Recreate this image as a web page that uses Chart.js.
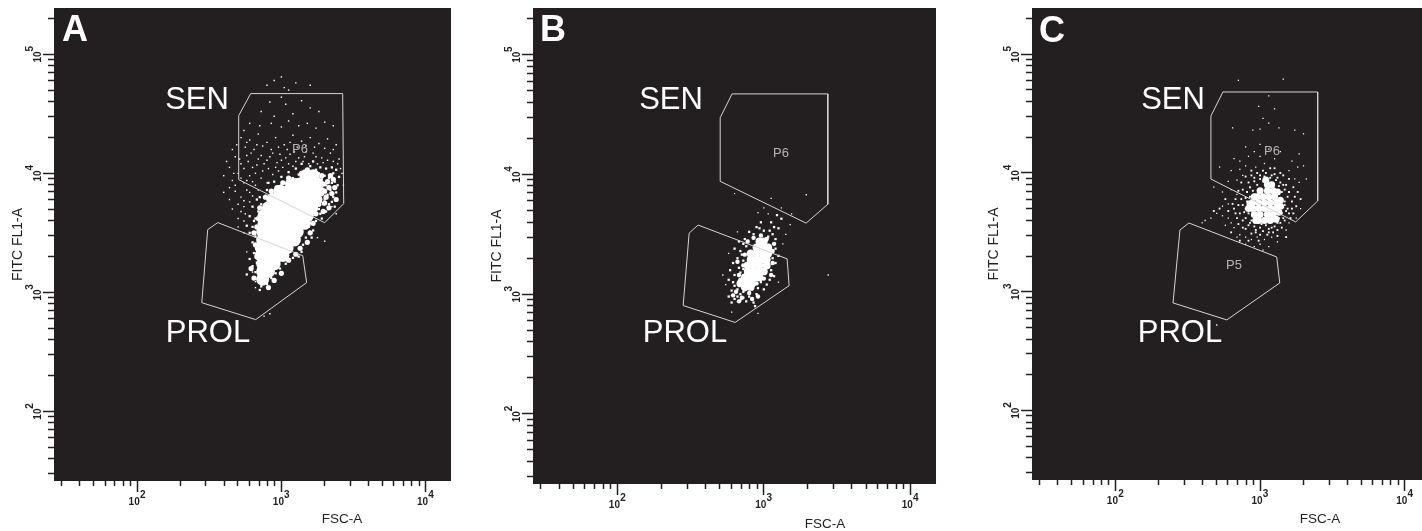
<!DOCTYPE html>
<html>
<head>
<meta charset="utf-8">
<title>FSC-A vs FITC FL1-A</title>
<script src="https://cdn.jsdelivr.net/npm/chart.js@4"></script>
<style>
  html, body { margin: 0; padding: 0; background: #fff; overflow: hidden; }
  body { position: relative; width: 1422px; height: 531px; font-family: "Liberation Sans", Arial, sans-serif; }
  canvas { position: absolute; top: 0; }
  .txt { position: absolute; transform: translate(-50%, -50%); white-space: nowrap; line-height: 1; }
  .letter { color: #fff; font-size: 36px; font-weight: bold; transform: translate(0, -50%); }
  .gate { color: #fff; font-size: 31px; }
  .sub { color: #b4b4b4; font-size: 13px; }
  .axis { color: #231f20; font-size: 13.5px; }
</style>
</head>
<body>
<canvas id="chartA"></canvas>
<canvas id="chartB"></canvas>
<canvas id="chartC"></canvas>
<script>
// tick positions, same on all three plots
var xTicks = [30, 40, 50, 60, 70, 80, 90, 100, 200, 300, 400, 500, 600, 700, 800, 900, 1000,
  2000, 3000, 4000, 5000, 6000, 7000, 8000, 9000, 10000];
var yTicks = [30, 40, 50, 60, 70, 80, 90, 100, 200, 300, 400, 500, 600, 700, 800, 900, 1000,
  2000, 3000, 4000, 5000, 6000, 7000, 8000, 9000, 10000,
  20000, 30000, 40000, 50000, 60000, 70000, 80000, 90000, 100000, 200000];
var decades = [100, 1000, 10000, 100000];
var decadeExponents = ["2", "3", "4", "5"];

// everything below is [log10 FSC-A, log10 FITC FL1-A]
var senGateA = [[2.787,4.67],[3.425,4.67],[3.432,3.745],[3.3,3.585],[2.704,3.947],[2.704,4.485],[2.787,4.67]];
var prolGateA = [[2.559,3.586],[3.148,3.308],[3.175,3.082],[2.822,2.771],[2.448,2.913],[2.489,3.527],[2.559,3.586]];
var senGateB = [[2.783,4.672],[3.437,4.672],[3.437,3.751],[3.289,3.593],[2.702,3.942],[2.702,4.473],[2.783,4.672]];
var prolGateB = [[2.551,3.577],[3.159,3.295],[3.173,3.071],[2.804,2.764],[2.449,2.905],[2.49,3.51],[2.551,3.577]];
var senGateC = [[2.743,4.682],[3.398,4.682],[3.398,3.764],[3.246,3.588],[2.66,3.949],[2.66,4.48],[2.743,4.682]];
var prolGateC = [[2.508,3.579],[3.115,3.293],[3.136,3.074],[2.77,2.763],[2.398,2.906],[2.446,3.52],[2.508,3.579]];

var coreA = [[3.17,3.98],[3.22,3.98],
  [3.07,3.91],[3.13,3.91],[3.19,3.91],[3.25,3.91],
  [2.99,3.85],[3.05,3.85],[3.11,3.85],[3.17,3.85],[3.23,3.85],
  [2.94,3.78],[3.0,3.78],[3.06,3.78],[3.12,3.78],[3.18,3.78],[3.24,3.78],
  [2.91,3.71],[2.97,3.71],[3.03,3.71],[3.09,3.71],[3.15,3.71],[3.21,3.71],
  [2.88,3.645],[2.94,3.645],[3.0,3.645],[3.06,3.645],[3.12,3.645],[3.18,3.645],
  [2.88,3.58],[2.94,3.58],[3.0,3.58],[3.06,3.58],[3.12,3.58],[3.16,3.58],
  [2.87,3.51],[2.93,3.51],[2.99,3.51],[3.05,3.51],[3.11,3.51],
  [2.87,3.44],[2.93,3.44],[2.99,3.44],[3.05,3.44],[3.09,3.44],
  [2.86,3.375],[2.92,3.375],[2.98,3.375],[3.04,3.375],
  [2.86,3.31],[2.92,3.31],[2.98,3.31],[3.01,3.31],
  [2.87,3.24],[2.92,3.24],[2.95,3.24],
  [2.87,3.175],[2.91,3.175],[2.87,3.11]];
var clumpA = [[3.28,3.98],[3.32,3.93],[3.29,3.91],[3.33,3.88],[3.3,3.85],[3.35,3.83],[3.31,3.8],[3.37,3.88],[3.28,3.83],
  [3.3,3.75],[3.33,3.71],[3.29,3.68],[3.26,3.74],[3.27,3.87],[3.34,3.98],[3.25,3.95],[3.22,4.0],[3.18,4.03],[3.14,4.0],
  [3.1,3.94],[3.05,3.96],[3.01,3.92],[2.97,3.88],[2.93,3.85],[2.89,3.8],[2.85,3.71],[2.84,3.62],[2.81,3.5],[2.83,3.55],
  [2.82,3.4],[2.83,3.3],[2.79,3.2],[2.81,3.12],[3.22,3.58],[3.2,3.5],[3.18,3.42],[3.13,3.37],[3.1,3.32],[3.05,3.27],
  [3.0,3.16],[2.95,3.1],[2.91,3.04],[3.24,3.66],[3.36,3.95],[3.38,3.78]];
var haloA = [[3.3,3.78],[3.32,3.82],[3.34,3.86],[3.36,3.8],[3.38,3.84],[3.35,3.92],[3.31,3.9],[3.28,3.95],
  [3.26,4.0],[3.3,3.98],[3.33,3.96],[3.37,3.93],[3.39,3.9],[3.4,3.97],[3.36,4.0],[3.24,4.03],[3.2,4.06],
  [3.27,4.05],[3.31,4.04],[3.35,4.05],[3.38,4.03],[3.16,4.02],[3.12,3.99],[3.08,3.96],[3.04,3.93],[3.0,3.9],
  [2.96,3.87],[2.93,3.82],[3.1,4.04],[3.14,4.08],[3.22,4.1],[3.05,4.01],[3.0,3.97],[2.95,3.93],[2.9,3.86],
  [2.88,3.8],[2.86,3.74],[2.84,3.68],[2.82,3.62],[2.8,3.72],[2.83,3.78],[2.78,3.64],[2.8,3.55],[2.78,3.5],
  [2.82,3.47],[2.8,3.42],[2.76,3.56],[2.83,3.38],[2.81,3.33],[2.83,3.25],[2.8,3.22],[2.82,3.17],[2.78,3.28],
  [2.76,3.15],[2.84,3.1],[2.85,3.02],[2.86,3.05],[3.26,3.7],[3.28,3.62],[3.24,3.6],[3.22,3.52],[3.19,3.55],
  [3.17,3.46],[3.15,3.4],[3.14,3.34],[3.21,3.46],[3.29,3.74],[3.31,3.68],[3.27,3.66],[3.29,3.87],[3.33,3.74],
  [3.35,3.76],[3.37,3.72],[3.26,3.83],[3.27,3.76],[3.12,3.3],[3.08,3.29],[3.06,3.36],[3.03,3.24],[2.99,3.2],
  [2.96,3.16],[2.93,3.12],[2.9,3.07],[2.89,3.12],[2.84,3.2],[2.84,3.42],[2.81,3.6],[2.85,3.8],[2.91,3.92]];
var sparseA = [[2.95,4.78],[3.0,4.81],[3.02,4.72],[3.1,4.76],[3.2,4.74],[2.9,4.74],[3.05,4.7],
  [2.92,4.6],[3.0,4.64],[3.03,4.58],[3.14,4.61],[3.2,4.55],[3.26,4.52],[3.08,4.5],[2.86,4.52],[2.95,4.48],
  [2.78,4.42],[2.85,4.4],[2.93,4.42],[3.0,4.39],[3.05,4.44],[3.12,4.4],[3.18,4.42],[3.24,4.38],[3.3,4.43],[3.36,4.4],[2.74,4.36],
  [2.72,4.3],[2.78,4.28],[2.84,4.33],[2.9,4.26],[2.96,4.3],[3.02,4.24],[3.08,4.32],[3.14,4.27],[3.2,4.3],[3.26,4.25],[3.32,4.29],[3.38,4.24],
  [2.66,4.2],[2.75,4.22],[2.81,4.2],[2.87,4.23],[2.98,4.22],[3.04,4.2],
  [2.62,4.1],[2.68,4.14],[2.72,4.08],[2.76,4.15],[2.8,4.05],[2.84,4.12],[2.88,4.08],[2.92,4.14],[2.96,4.05],[3.0,4.11],
  [3.06,4.16],[3.1,4.1],[3.16,4.14],[3.22,4.17],[3.28,4.13],[3.34,4.17],[3.4,4.12],
  [2.6,3.98],[2.66,3.94],[2.7,4.0],[2.74,3.92],[2.78,3.98],[2.82,3.9],[2.86,3.96],[2.9,3.92],[2.94,3.99],[2.98,4.02],[3.42,4.0],[3.43,3.9],
  [2.68,3.85],[2.72,3.8],[2.76,3.86],[2.8,3.81],[2.64,3.78],[2.74,3.72],[2.78,3.76],[3.35,3.72],[3.38,3.66],
  [2.72,3.68],[2.75,3.66],[2.7,3.62],[2.74,3.6],[2.76,3.34],[2.8,3.17],[2.82,3.09],[2.82,3.04],[2.88,2.8],[2.92,2.82],
  [3.25,3.46],[3.3,3.43],[2.74,3.5],[2.7,3.55],[2.66,3.7],[2.6,3.84],
  [2.64,4.05],[2.67,4.0],[2.71,4.12],[2.74,4.04],[2.77,4.1],[2.79,4.17],[2.82,4.0],[2.83,4.07],[2.86,4.15],[2.87,4.02],
  [2.9,4.11],[2.91,4.04],[2.94,4.17],[2.97,4.09],[2.99,4.16],[3.01,4.05],[3.03,4.13],[3.05,4.08],[3.08,4.06],[3.09,4.18],
  [3.12,4.13],[3.15,4.1],[3.17,4.18],[3.19,4.08],[3.24,4.14],[3.25,4.08],[3.29,4.09],[3.32,4.11],[3.36,4.1],[3.39,4.08],
  [3.41,4.04],[2.69,4.24],[2.76,4.26],[2.83,4.24],[2.93,4.2],[3.06,4.26],[3.11,4.22],[3.17,4.23],[3.23,4.22],[3.3,4.21],
  [3.36,4.2],[2.76,3.94],[2.72,3.96],[2.68,3.9],[2.64,3.88],[2.8,3.93],[2.84,3.86],[2.78,3.84],[2.74,3.77],[2.7,3.74]];

var coreB = [[2.97,3.44],[3.0,3.44],
  [2.95,3.39],[2.99,3.39],[3.03,3.39],
  [2.91,3.34],[2.95,3.34],[2.99,3.34],[3.03,3.34],
  [2.91,3.29],[2.95,3.29],[2.99,3.29],[3.02,3.29],
  [2.89,3.24],[2.93,3.24],[2.97,3.24],[3.02,3.24],
  [2.89,3.19],[2.93,3.19],[2.97,3.19],[3.0,3.19],
  [2.87,3.14],[2.91,3.14],[2.95,3.14],[2.97,3.14],
  [2.84,3.09],[2.88,3.09],[2.92,3.09],[2.87,3.06],[2.91,3.06]];
var clumpB = [[2.93,3.47],[2.98,3.49],[3.02,3.46],[3.07,3.42],[3.06,3.36],[3.06,3.26],[3.05,3.16],[3.0,3.13],[2.84,3.12],
  [2.83,3.16],[2.86,3.24],[2.87,3.33],[2.89,3.44],[2.82,3.27],[2.81,3.02],[2.85,2.97],[2.87,3.04],[2.9,3.01],[2.83,2.94],
  [2.79,2.99],[2.92,2.96],[2.96,2.98],[2.95,3.09]];
var haloB = [[2.97,3.55],[2.95,3.56],[3.0,3.53],[2.9,3.52],[2.93,3.5],[3.03,3.48],[3.06,3.5],[3.08,3.46],[2.98,3.6],
  [3.05,3.6],[3.1,3.55],[3.12,3.63],[3.09,3.66],[3.04,3.53],[3.07,3.56],
  [2.83,3.44],[2.86,3.42],[2.8,3.38],[2.84,3.36],[2.88,3.4],[2.82,3.3],[2.86,3.28],[2.79,3.26],[2.83,3.22],[2.77,3.2],
  [2.8,3.16],[2.84,3.18],[2.76,3.12],[2.79,3.1],[2.87,3.46],[2.85,3.33],[2.86,3.21],
  [3.08,3.38],[3.1,3.32],[3.06,3.3],[3.08,3.26],[3.05,3.2],[3.07,3.15],[3.04,3.12],[3.02,3.08],[3.0,3.04],[2.98,3.1],
  [2.8,2.96],[2.82,2.98],[2.84,2.95],[2.78,2.93],[2.76,2.98],[2.86,2.97],[2.88,2.94],[2.9,2.98],[2.93,2.93],[2.95,3.0],
  [2.92,3.04],[2.86,3.02],[2.82,3.04],[2.78,3.03],[2.94,2.9],[2.84,3.0],[2.8,3.07],[2.96,3.05]];
var sparseB = [[3.44,3.16],[2.78,2.85],[3.05,3.8],[2.8,3.84],[3.29,3.83],[3.19,3.67],[3.03,3.67],[3.12,3.72],[3.0,3.72],
  [3.15,3.5],[3.18,3.58],[2.96,3.68],[2.82,3.52],[2.76,3.34],[2.72,3.16],[2.74,3.08],[2.96,2.84],[3.1,3.1],[3.13,3.42]];

var coreC = [[3.05,3.9],[3.08,3.9],[3.04,3.94],
  [3.0,3.85],[3.05,3.85],[3.09,3.85],[3.12,3.84],
  [2.96,3.8],[2.98,3.8],[3.02,3.8],[3.06,3.8],[3.1,3.8],
  [2.95,3.75],[2.99,3.75],[3.03,3.75],[3.07,3.75],[3.11,3.75],[3.14,3.77],[2.93,3.74],
  [2.92,3.7],[2.95,3.7],[2.99,3.7],[3.03,3.7],[3.07,3.7],[3.11,3.7],[3.14,3.72],
  [2.96,3.65],[3.0,3.65],[3.05,3.65],[3.09,3.65],[3.13,3.67],
  [2.97,3.6],[2.99,3.6],[3.03,3.6],[3.07,3.6],[3.11,3.61]];
var haloC = [[3.07,3.96],[3.11,3.94],[3.02,3.93],[2.98,3.9],[3.13,3.89],[3.15,3.84],[2.95,3.85],[2.93,3.8],[3.14,3.79],
  [3.17,3.76],[3.16,3.71],[2.91,3.76],[2.9,3.7],[2.92,3.66],[3.15,3.66],[3.13,3.62],[3.18,3.68],[3.12,3.58],[2.94,3.6],
  [2.92,3.56],[2.96,3.55],[3.0,3.54],[3.04,3.56],[3.08,3.54],[3.1,3.99],[3.0,3.98],[3.04,4.0],[2.96,3.96],[2.92,3.92],
  [3.18,3.9],[3.2,3.84],[3.22,3.76],[3.2,3.66],[3.17,3.6],[2.88,3.86],[2.87,3.78],[2.86,3.66],[2.88,3.6],[2.85,3.73],
  [2.9,3.53],[2.97,3.5],[3.02,3.51],[3.06,3.5],[3.12,3.52],[3.14,4.0],[2.94,4.02],[3.07,4.04],[2.82,3.7],[2.84,3.62],
  [3.16,3.9],[3.19,3.8],[3.17,3.73],[3.19,3.7],[3.16,3.62],[3.14,3.58],[3.1,3.55],[3.06,3.53],[3.01,3.57],[2.97,3.52],
  [2.93,3.58],[2.9,3.62],[2.89,3.67],[2.88,3.73],[2.9,3.79],[2.91,3.84],[2.93,3.88],[2.96,3.93],[3.0,3.95],[3.03,3.97],
  [3.08,3.98],[3.12,3.96],[3.14,3.92],[3.17,3.86],[3.22,3.7],[3.24,3.8],[3.25,3.72],[3.23,3.66],[3.21,3.62],[3.15,3.54],
  [3.09,3.5],[3.0,3.48],[2.94,3.49],[2.88,3.54],[2.85,3.57],[2.83,3.66],[2.81,3.74],[2.83,3.78],[2.85,3.85],[2.87,3.92],
  [2.9,3.97],[2.94,3.98],[2.98,4.0],[3.02,4.02],[3.1,4.04],[3.16,3.98],[3.2,3.95],[3.23,3.88],[3.26,3.84],[3.28,3.78],
  [3.05,3.48],[3.12,3.47],[2.99,3.43],[2.92,3.43],[2.86,3.43],[2.8,3.5],[2.78,3.68],[2.76,3.78],[2.72,3.7],[3.18,3.46],[2.68,3.68]];
var sparseC = [[2.85,4.78],[3.16,4.79],[3.06,4.65],[2.99,4.56],[3.1,4.54],[3.02,4.46],[3.06,4.42],[2.81,4.38],[2.95,4.36],
  [3.0,4.37],[3.13,4.38],[3.24,4.36],[3.3,4.33],[3.0,4.24],[3.06,4.2],[2.9,4.22],[2.82,4.12],[2.86,4.1],[2.92,4.14],
  [2.96,4.18],[3.0,4.14],[3.03,4.08],[3.1,4.12],[3.14,4.18],[3.22,4.1],[3.27,4.16],[3.2,4.02],[3.26,4.05],[3.32,3.95],
  [3.3,4.06],[3.27,3.92],[3.24,3.95],[2.8,4.02],[2.86,4.03],[2.9,4.06],[2.97,4.05],[2.78,3.93],[2.84,3.94],[2.88,3.98],
  [2.72,4.05],[2.68,3.88],[2.74,3.84],[2.8,3.86],[2.78,3.74],[2.74,3.72],[2.84,3.82],[2.7,3.66],[2.74,3.64],[2.78,3.62],
  [2.8,3.58],[2.82,3.54],[2.76,3.56],[2.66,3.62],[2.62,3.6],[2.6,3.58],[2.86,3.48],[2.9,3.46],[2.94,3.44],[2.98,3.46],
  [3.03,3.44],[3.08,3.46],[3.12,3.42],[3.0,3.4],[2.96,3.38],[2.9,3.4],[3.06,3.38],[3.28,3.7],[3.25,3.62],[3.2,3.58],
  [3.18,3.52],[2.7,2.72],[2.84,3.46],[3.02,3.35]];

function toXY(points) {
  return points.map(function (p) {
    return { x: Math.pow(10, p[0]), y: Math.pow(10, p[1]) };
  });
}

function gateSet(points) {
  return {
    data: toXY(points), showLine: true, pointRadius: 0, borderColor: "#d4d4d4",
    borderWidth: 1, tension: 0, fill: false,
  };
}

function eventSet(points, radius, style) {
  return {
    data: toXY(points), showLine: false, pointRadius: radius, pointStyle: style,
    backgroundColor: "#fff", borderWidth: 0,
  };
}

// minor ticks stop short of the full tick length; y ticks are stroked from the outer end
function xTickDash(ctx) {
  return decades.indexOf(ctx.tick.value) >= 0 ? [] : [5, 100];
}
function yTickDash(ctx) {
  return decades.indexOf(ctx.tick.value) >= 0 ? [] : [0, 5, 6, 100];
}

// 10 with a raised exponent, placed with the chart's own scales
var decadeLabelPlugin = {
  id: "decadeLabels",
  afterDraw: function (chart) {
    var c = chart.ctx, sx = chart.scales.x, sy = chart.scales.y;
    c.save();
    c.fillStyle = "#231f20";
    c.font = "bold 10px 'Liberation Sans'";
    c.textAlign = "center";
    c.textBaseline = "middle";
    decades.forEach(function (d, i) {
      if (xTicks.indexOf(d) >= 0) {
        var px = sx.getPixelForValue(d);
        c.fillText("10", px - 3, sx.top + 21);
        c.fillText(decadeExponents[i], px + 5.5, sx.top + 14.5);
      }
      if (yTicks.indexOf(d) >= 0) {
        var py = sy.getPixelForValue(d);
        c.save();
        c.translate(sy.right - 16, py + 2.7);
        c.rotate(-Math.PI / 2);
        c.fillText("10", 0, 0);
        c.restore();
        c.save();
        c.translate(sy.right - 23.5, py - 5.5);
        c.rotate(-Math.PI / 2);
        c.fillText(decadeExponents[i], 0, 0);
        c.restore();
      }
    });
    c.restore();
  },
};

var plotBackgroundPlugin = {
  id: "plotBackground",
  beforeDraw: function (chart) {
    var a = chart.chartArea;
    chart.ctx.fillStyle = "#231f20";
    chart.ctx.fillRect(a.left, a.top, a.right - a.left, a.bottom - a.top);
  },
};

function makePlot(id, left, width, bottom, xMax, titlePad, sets) {
  var canvas = document.getElementById(id);
  canvas.width = width;
  canvas.height = 531;
  canvas.style.left = left + "px";
  new Chart(canvas, {
    type: "scatter",
    data: { datasets: sets },
    options: {
      animation: false,
      responsive: false,
      layout: { autoPadding: false, padding: { top: 8, left: 0, right: 0, bottom: 0 } },
      plugins: { legend: { display: false }, tooltip: { enabled: false } },
      scales: {
        x: {
          type: "logarithmic",
          min: 26.5,
          max: xMax,
          border: { display: false },
          grid: { drawOnChartArea: false, tickLength: 11, tickWidth: 1.5, tickColor: "#231f20", tickBorderDash: xTickDash },
          ticks: { display: false, autoSkip: false },
          afterBuildTicks: function (s) { s.ticks = xTicks.map(function (v) { return { value: v }; }); },
          afterFit: function (s) { s.height = 531 - bottom; s.paddingLeft = 0; s.paddingRight = 0; },
        },
        y: {
          type: "logarithmic",
          min: 26,
          max: 245000,
          border: { display: false },
          grid: { drawOnChartArea: false, tickLength: 11, tickWidth: 1.5, tickColor: "#231f20", tickBorderDash: yTickDash },
          ticks: { display: false, autoSkip: false },
          title: { display: true, text: "FITC FL1-A", color: "#231f20", font: { family: "Liberation Sans", size: 14 }, padding: { top: titlePad, bottom: 0 } },
          afterBuildTicks: function (s) { s.ticks = yTicks.map(function (v) { return { value: v }; }); },
          afterFit: function (s) { s.width = 54; s.paddingTop = 0; s.paddingBottom = 0; },
        },
      },
    },
    plugins: [plotBackgroundPlugin, decadeLabelPlugin],
  });
}

makePlot("chartA", 0, 451, 481, 15000, 10, [
  gateSet(senGateA), gateSet(prolGateA),
  eventSet(sparseA, 1, "rect"), eventSet(haloA, 1.6, "rect"), eventSet(clumpA, 2.6, "circle"), eventSet(coreA, 6.5, "circle"),
]);
makePlot("chartB", 479, 457, 484, 15000, 10, [
  gateSet(senGateB), gateSet(prolGateB),
  eventSet(sparseB, 0.9, "rect"), eventSet(haloB, 1.6, "rect"), eventSet(clumpB, 2.2, "circle"), eventSet(coreB, 3.9, "circle"),
]);
makePlot("chartC", 978, 444, 480, 13160, 8, [
  gateSet(senGateC), gateSet(prolGateC),
  eventSet(sparseC, 0.9, "rect"), eventSet(haloC, 1.3, "rect"), eventSet(coreC, 3.5, "circle"),
]);

// panel letters, gate names and the x axis caption sit on top of the canvases
var overlay = [
  ["A", "letter", 62, 29], ["B", "letter", 540, 29], ["C", "letter", 1039, 30],
  ["SEN", "gate", 197, 98], ["SEN", "gate", 671, 98], ["SEN", "gate", 1173, 98],
  ["PROL", "gate", 208, 331], ["PROL", "gate", 685, 331], ["PROL", "gate", 1180, 331],
  ["P6", "sub", 300, 148], ["P6", "sub", 781, 152], ["P6", "sub", 1272, 150], ["P5", "sub", 1234, 264],
  ["FSC-A", "axis", 342, 519], ["FSC-A", "axis", 825, 524], ["FSC-A", "axis", 1320, 519],
];
overlay.forEach(function (t) {
  var el = document.createElement("div");
  el.className = "txt " + t[1];
  el.textContent = t[0];
  el.style.left = t[2] + "px";
  el.style.top = t[3] + "px";
  document.body.appendChild(el);
});
</script>
</body>
</html>
